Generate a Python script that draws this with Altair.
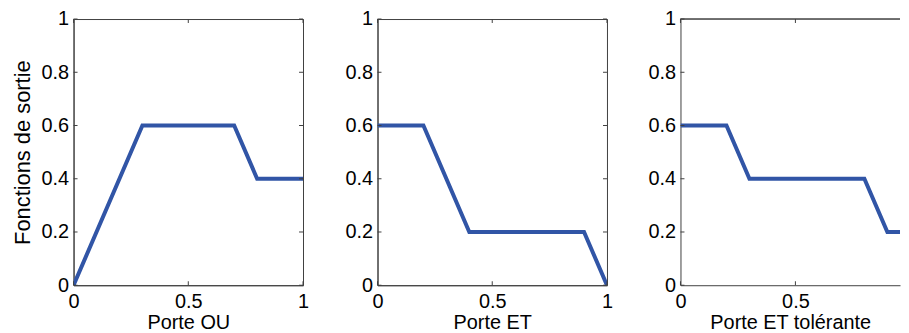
import altair as alt
import pandas as pd

# ---- data ----
panel_titles = ["Porte OU", "Porte ET", "Porte ET tolérante"]
y_axis_title = "Fonctions de sortie"

x_ou = [0.0, 0.3, 0.7, 0.8, 1.0]
y_ou = [0.0, 0.6, 0.6, 0.4, 0.4]

x_et = [0.0, 0.2, 0.4, 0.9, 1.0]
y_et = [0.6, 0.6, 0.2, 0.2, 0.0]

x_tol = [0.0, 0.2, 0.3, 0.8, 0.9, 1.0]
y_tol = [0.6, 0.6, 0.4, 0.4, 0.2, 0.2]

x_ticks = [0, 0.5, 1]
y_ticks = [0, 0.2, 0.4, 0.6, 0.8, 1]

# the reference picture is cropped on the right, through the last panel
x_visible_end = [1.0, 1.0, 0.955]

# ---- style ----
W, H = 231, 268
FONT = "Liberation Sans"
LINE = "#3155a6"
FRAME = "#404040"
TICK_LEN = 4


def panel(xs, ys, xtitle, ytitle, xmax):
    cropped = xmax < 1.0
    w = round(W * xmax)
    df = pd.DataFrame({"x": xs, "y": ys})
    xvals = [t for t in x_ticks if t <= xmax]
    xscale = alt.Scale(domain=[0, xmax], nice=False, zero=False)
    yscale = alt.Scale(domain=[0, 1], nice=False, zero=False)
    xaxis = alt.Axis(values=xvals, format="~g", ticks=False, labelFlush=False)
    yaxis = alt.Axis(values=y_ticks, format="~g", ticks=False, labelFlush=False)

    def X():
        return alt.X("x:Q", scale=xscale, title=xtitle, axis=xaxis)

    def Y():
        if ytitle:
            return alt.Y("y:Q", scale=yscale, title=ytitle, axis=yaxis)
        return alt.Y("y:Q", scale=yscale, title=None, axis=yaxis)

    line = alt.Chart(df).mark_line(color=LINE, strokeWidth=4, clip=True).encode(
        x=X(), y=Y())

    xt = pd.DataFrame({"x": xvals})
    yt = pd.DataFrame({"y": y_ticks})
    bottom = alt.Chart(xt).mark_rule(color=FRAME, strokeWidth=1).encode(
        x=X(), y=alt.value(H), y2=alt.value(H - TICK_LEN))
    top = alt.Chart(xt).mark_rule(color=FRAME, strokeWidth=1).encode(
        x=X(), y=alt.value(0), y2=alt.value(TICK_LEN))
    left = alt.Chart(yt).mark_rule(color=FRAME, strokeWidth=1).encode(
        y=Y(), x=alt.value(0), x2=alt.value(TICK_LEN))
    layers = [line, bottom, top, left]
    if cropped:
        top_edge = alt.Chart(xt).mark_rule(color=FRAME, strokeWidth=1).encode(
            x=alt.value(0), x2=alt.value(w), y=alt.value(0))
        layers.append(top_edge)
        return alt.layer(*layers).properties(
            width=w, height=H, view=alt.ViewBackground(strokeOpacity=0))
    right = alt.Chart(yt).mark_rule(color=FRAME, strokeWidth=1).encode(
        y=Y(), x=alt.value(w), x2=alt.value(w - TICK_LEN))
    layers.append(right)
    return alt.layer(*layers).properties(width=w, height=H)


chart = alt.hconcat(
    panel(x_ou, y_ou, panel_titles[0], y_axis_title, x_visible_end[0]),
    panel(x_et, y_et, panel_titles[1], None, x_visible_end[1]),
    panel(x_tol, y_tol, panel_titles[2], None, x_visible_end[2]),
    spacing=34,
).properties(
    padding={"left": 2, "top": -1, "right": 0, "bottom": 0},
    background="white",
).configure_view(
    stroke=FRAME, strokeWidth=1
).configure_axis(
    domainColor=FRAME, domainWidth=1, grid=False,
    labelFont=FONT, labelFontSize=20, labelColor="black",
    titleFont=FONT, titleFontSize=20, titleFontWeight="normal", titleColor="black",
    labelPadding=5,
).configure_axisX(
    labelPadding=6, titlePadding=2,
).configure_axisY(
    titlePadding=7, titleFontSize=22,
)

chart.save("out.html", embed_options={"renderer": "svg", "actions": False})
